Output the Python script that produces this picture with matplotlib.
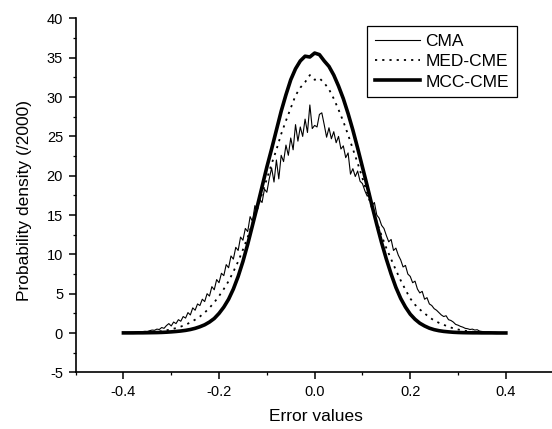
import numpy as np
import matplotlib
matplotlib.use("Agg")
import matplotlib.pyplot as plt
from matplotlib.ticker import MultipleLocator

plt.rcParams['font.family'] = ['Liberation Sans', 'DejaVu Sans']
plt.rcParams['axes.unicode_minus'] = False

cma = [
    0.05, 0.06, 0.08, 0.07, 0.10, 0.12, 0.10, 0.15, 0.18, 0.22,
    0.20, 0.30, 0.38, 0.35, 0.50, 0.45, 0.70, 0.60, 0.95, 1.20,
    0.90, 1.40, 1.20, 1.70, 1.50, 2.10, 1.90, 2.60, 2.30, 3.20,
    2.90, 3.70, 3.50, 4.30, 4.00, 5.00, 4.70, 5.90, 5.50, 6.80,
    6.40, 7.60, 7.30, 8.70, 8.30, 9.80, 9.40, 10.9, 10.5, 12.2,
    11.8, 13.3, 12.9, 14.8, 14.2, 16.2, 15.6, 17.0, 16.6, 18.3,
    17.9, 19.6, 21.0, 19.2, 22.0, 19.6, 22.6, 21.8, 23.9, 22.6,
    24.8, 23.3, 26.5, 24.4, 26.2, 25.0, 27.2, 25.5, 29.0, 26.0,
    26.4, 26.2, 27.8, 28.0, 26.5, 24.9, 26.1, 24.7, 25.6, 24.2,
    25.0, 23.4, 23.8, 22.3, 22.9, 20.2, 20.9, 19.9, 20.6, 19.3,
    19.0, 18.1, 17.4, 17.8, 16.2, 16.6, 15.0, 14.6, 13.7, 13.3,
    12.4, 11.6, 11.9, 10.5, 10.8, 9.9, 9.3, 8.4, 8.6, 7.5,
    7.2, 6.4, 6.6, 5.6, 5.1, 5.3, 4.3, 4.5, 3.7, 3.5,
    3.1, 2.9, 2.6, 2.3, 2.1, 2.2, 1.7, 1.6, 1.4, 1.1,
    1.0, 0.85, 0.75, 0.6, 0.55, 0.45, 0.5, 0.38, 0.42, 0.25,
    0.2, 0.18, 0.15, 0.16, 0.12, 0.1, 0.11, 0.08, 0.07, 0.06,
    0.05,
]

# MED-CME and MCC-CME, sampled every 0.01 from -0.4 to 0.4
med_cme = [
    0.02, 0.02, 0.03, 0.04, 0.06, 0.08, 0.12, 0.17, 0.25, 0.35,
    0.48, 0.63, 0.82, 1.05, 1.35, 1.7, 2.1, 2.6, 3.2, 3.9,
    4.7, 5.6, 6.6, 7.8, 9.1, 10.6, 12.2, 14.0, 15.8, 17.7,
    19.6, 21.5, 23.3, 25.3, 27.0, 28.6, 30.2, 31.2, 31.9, 32.8,
    32.2, 32.4, 31.8, 31.0, 29.8, 28.4, 26.9, 25.2, 23.4, 21.6,
    19.7, 17.8, 15.9, 14.1, 12.4, 10.8, 9.4, 8.0, 6.7, 5.5,
    4.4, 3.6, 3.0, 2.5, 2.0, 1.6, 1.3, 1.05, 0.8, 0.6,
    0.45, 0.33, 0.24, 0.17, 0.12, 0.08, 0.06, 0.04, 0.03, 0.02,
    0.02,
]

mcc_cme = [
    0.02, 0.02, 0.02, 0.03, 0.03, 0.04, 0.05, 0.06, 0.08, 0.11,
    0.15, 0.2, 0.26, 0.34, 0.45, 0.6, 0.8, 1.05, 1.4, 1.85,
    2.5, 3.3, 4.3, 5.6, 7.2, 9.1, 11.3, 13.7, 16.1, 18.6,
    21.1, 23.4, 25.8, 28.2, 30.3, 32.2, 33.6, 34.6, 35.2, 35.1,
    35.6, 35.4, 34.6, 33.9, 32.8, 31.4, 29.8, 27.9, 25.8, 23.5,
    21.1, 18.7, 16.2, 13.8, 11.5, 9.4, 7.5, 5.8, 4.4, 3.3,
    2.4, 1.75, 1.25, 0.9, 0.62, 0.43, 0.3, 0.21, 0.15, 0.1,
    0.07, 0.05, 0.04, 0.03, 0.03, 0.02, 0.02, 0.02, 0.01, 0.01,
    0.01,
]

x_cma = np.linspace(-0.4, 0.4, len(cma))
x_med = np.linspace(-0.4, 0.4, len(med_cme))
x_mcc = np.linspace(-0.4, 0.4, len(mcc_cme))

fig = plt.figure(figsize=(5.52, 4.29), dpi=100)
ax = fig.add_axes([0.137, 0.132, 0.866, 0.825])

ax.plot(x_cma, cma, color='black', lw=0.8, label='CMA')
ax.plot(x_med, med_cme, color='black', lw=1.3, linestyle=(0, (1.2, 2.8)), label='MED-CME')
ax.plot(x_mcc, mcc_cme, color='black', lw=2.6, label='MCC-CME')

ax.set_xlim(-0.5, 0.5)
ax.set_ylim(-5, 40)
ax.xaxis.set_major_locator(MultipleLocator(0.2))
ax.xaxis.set_minor_locator(MultipleLocator(0.1))
ax.yaxis.set_major_locator(MultipleLocator(5))
ax.yaxis.set_minor_locator(MultipleLocator(2.5))
ax.xaxis.set_major_formatter(matplotlib.ticker.FormatStrFormatter('%.1f'))

for side in ['top', 'right']:
    ax.spines[side].set_visible(False)
for side in ['left', 'bottom']:
    ax.spines[side].set_linewidth(1.2)

ax.tick_params(which='major', direction='out', length=5, width=1.1, labelsize=10.5, pad=4)
ax.tick_params(which='minor', direction='out', length=2.5, width=0.9)

ax.set_xlabel('Error values', fontsize=12.5, va='center')
ax.set_ylabel('Probability density (/2000)', fontsize=12.5, va='center')
ax.xaxis.set_label_coords(0.502, -0.126)
ax.yaxis.set_label_coords(-0.106, 0.487)

leg = ax.legend(loc='upper right', bbox_to_anchor=(0.9226, 0.979), fontsize=12.5,
                frameon=True, fancybox=False, edgecolor='black', framealpha=1,
                handlelength=2.6, handletextpad=0.3, labelspacing=0.3,
                borderpad=0.45, borderaxespad=0)
leg.get_frame().set_linewidth(0.9)

fig.savefig('out.png', dpi=100, facecolor='white')
